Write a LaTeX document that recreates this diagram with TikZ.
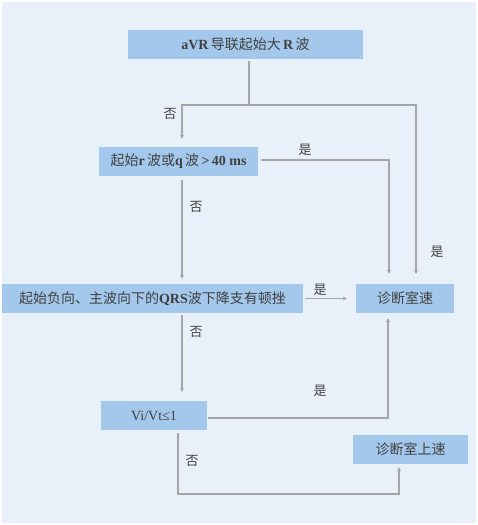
\documentclass[tikz,border=0pt]{standalone}
\usepackage{fontspec}
\setmainfont{Liberation Serif}
\newfontfamily\cjk{Noto Sans CJK SC}
\newcommand{\zh}[1]{{\cjk\mdseries #1}}
\usetikzlibrary{arrows.meta}

\definecolor{bgblue}{HTML}{E8F1FA}
\definecolor{boxblue}{HTML}{A3C8EC}
\definecolor{linegray}{HTML}{A6A6A6}
\definecolor{textgray}{HTML}{404040}

\tikzset{
    box/.style={fill=boxblue, inner sep=0pt, text=textgray,
        font=\bfseries\fontsize{14}{16}\selectfont, minimum height=29pt},
    flow/.style={draw=linegray, line width=1.2pt,
        -{Stealth[length=4pt,width=4pt]}},
    yesno/.style={text=textgray, font=\cjk\fontsize{13}{15}\selectfont}
}

\begin{document}
\begin{tikzpicture}[x=1pt, y=-1pt]

    % 背景
    \useasboundingbox (0,0) rectangle (477,525);
    \fill[bgblue] (2,2) rectangle (476,523);

    % 判断框
    \node[box, minimum width=235pt] (avr) at (245.5,44.5) {aVR\,\zh{导联起始大}\,R\,\zh{波}};
    \node[box, minimum width=159pt] (rq) at (178.5,161.5) {\zh{起始}r\,\zh{波或}q\,\zh{波}\,>\,40 ms};
    \node[box, minimum width=301pt] (qrs) at (152.5,298.5) {\zh{起始负向、主波向下的}QRS\zh{波下降支有顿挫}};
    \node[box, minimum width=98pt] (vt) at (405,298.5) {\zh{诊断室速}};
    \node[box, minimum width=106pt] (vivt) at (154,415.5) {\mdseries Vi/Vt≤1};
    \node[box, minimum width=115pt] (svt) at (410.5,449.5) {\zh{诊断室上速}};

    % 折点
    \coordinate (A) at (249,105);
    \coordinate (D) at (178,494);

    % 连线
    \draw[flow] ([xshift=3.5pt,yshift=-2pt]avr.south) -- (A) -| ([xshift=3.5pt,yshift=8pt]rq.north);
    \draw[flow] (A) -| ([xshift=11pt,yshift=10pt]vt.north);
    \draw[flow] ([xshift=3pt,yshift=1.5pt]rq.east) -| ([xshift=-16pt,yshift=10pt]vt.north);
    \draw[flow] ([xshift=3.5pt,yshift=-4pt]rq.south) -- ([xshift=29.5pt,yshift=5pt]qrs.north);
    \draw[flow] ([xshift=2pt]qrs.east) -- ([xshift=-9pt]vt.west);
    \draw[flow] ([xshift=29.5pt,yshift=-2pt]qrs.south) -- ([xshift=28pt,yshift=9pt]vivt.north);
    \draw[flow] ([xshift=1pt,yshift=-2.5pt]vivt.east) -| ([xshift=-17pt,yshift=-5pt]vt.south);
    \draw[flow] ([xshift=24pt,yshift=-3pt]vivt.south) -- (D) -| ([xshift=-11.5pt,yshift=-3pt]svt.south);

    % 标注
    \node[yesno] (n1) at (170,114) {否};
    \node[yesno] (y1) at (305,150) {是};
    \node[yesno] (n2) at (196,207) {否};
    \node[yesno] (y2) at (437,252) {是};
    \node[yesno] (y3) at (320,290) {是};
    \node[yesno] (n3) at (196,332) {否};
    \node[yesno] (y4) at (320,391) {是};
    \node[yesno] (n4) at (192,461) {否};

\end{tikzpicture}
\end{document}
